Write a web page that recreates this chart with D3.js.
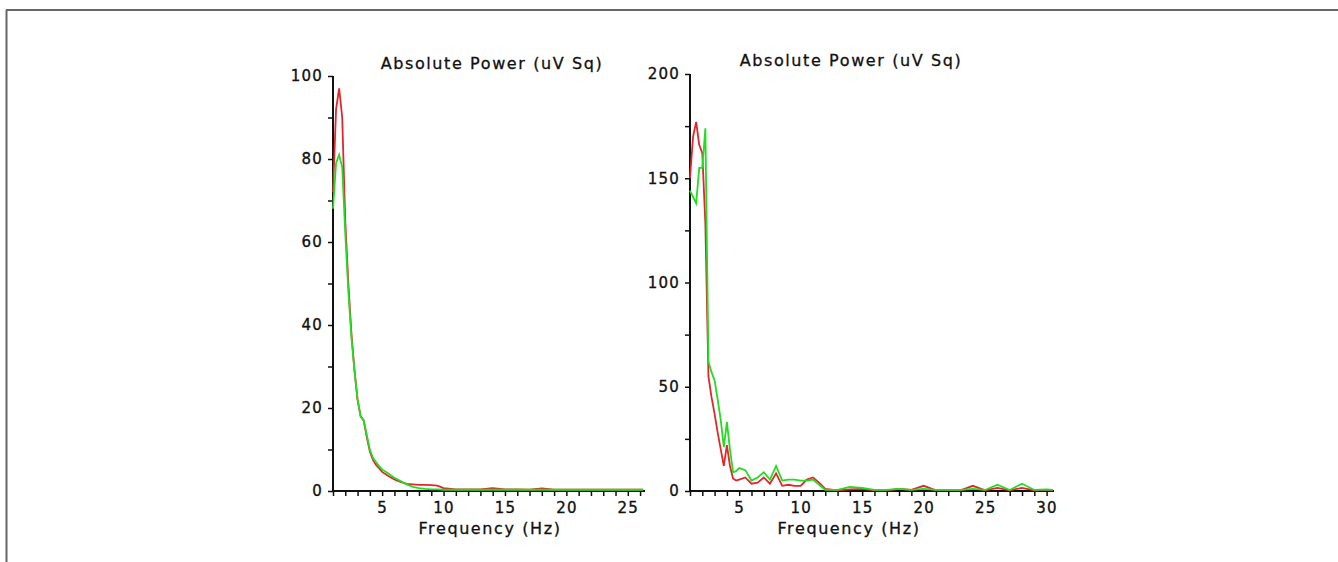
<!DOCTYPE html>
<html>
<head>
<meta charset="utf-8">
<script src="https://cdn.jsdelivr.net/npm/d3@7"></script>
<style>
  body { margin: 0; background: #fff; }
  svg { display: block; }
  .tick text { font-family: "DejaVu Sans", sans-serif; font-size: 15px; letter-spacing: 1.2px; fill: #111; stroke: #111; stroke-width: 0.35px; }
  .label { font-family: "DejaVu Sans", sans-serif; font-size: 16px; letter-spacing: 1.6px; fill: #111; stroke: #111; stroke-width: 0.3px; }
</style>
</head>
<body>
<div id="chart"></div>
<script>
var svgWidth = 1338;
var svgHeight = 562;

var titleText = "Absolute Power (uV Sq)";
var xTitleText = "Frequency (Hz)";

// left panel
var leftFreq = [1, 1.25, 1.5, 1.75, 2, 2.25, 2.5, 2.75, 3, 3.25, 3.5, 3.75, 4, 4.25, 4.5, 4.75, 5,
  5.5, 6, 6.5, 7, 7.5, 8, 8.5, 9, 9.5, 10,
  11, 12, 13, 14, 15, 16, 17, 18, 19, 20, 21, 22, 23, 24, 25, 26, 26.25];
var leftRed = [72, 92, 97, 90, 65, 50, 38, 29, 22, 18, 17, 13, 9.5, 7.5, 6.3, 5.5, 4.6,
  3.6, 2.8, 2.2, 1.7, 1.6, 1.5, 1.5, 1.4, 1.3, 0.7,
  0.4, 0.4, 0.4, 0.7, 0.4, 0.4, 0.3, 0.6, 0.3, 0.3, 0.3, 0.3, 0.3, 0.3, 0.3, 0.3, 0.3];
var leftGreen = [68, 79, 81, 78, 62, 48, 37, 29, 22, 18, 17, 13.5, 10, 8, 7, 6, 5.2,
  4.2, 3.2, 2.4, 1.6, 1.0, 0.7, 0.5, 0.4, 0.4, 0.3,
  0.3, 0.3, 0.3, 0.3, 0.3, 0.3, 0.3, 0.3, 0.3, 0.3, 0.3, 0.3, 0.3, 0.3, 0.3, 0.3, 0.3];
var leftYLabels = [0, 20, 40, 60, 80, 100];
var leftXLabels = [5, 10, 15, 20, 25];

// right panel
var rightFreq = [1, 1.25, 1.5, 1.75, 2, 2.25, 2.5, 2.75, 3, 3.25, 3.5, 3.75, 4, 4.25, 4.5, 4.75, 5,
  5.5, 6, 6.5, 7, 7.5, 8, 8.5, 9, 9.5, 10, 10.5, 11, 11.5, 12,
  13, 14, 15, 16, 17, 18, 19, 20, 21, 22, 23, 24, 25, 26, 27, 28, 29, 30, 30.5];
var rightRed = [150, 170, 177, 166, 162, 128, 55, 45, 37, 28, 20, 12, 22, 12, 6, 5, 5.5,
  6.5, 3.5, 4, 6.5, 3.5, 8.5, 2.5, 3, 2.5, 2.5, 5.5, 6.5, 4, 1,
  0.3, 0.8, 1, 0.3, 0.3, 1, 0.5, 2.5, 0.3, 0.5, 0.3, 2.5, 0.3, 1.5, 0.3, 1.5, 0.3, 0.5, 0.3];
var rightGreen = [144, 141, 138, 155, 155, 174, 62, 57, 53, 44, 34, 21, 33, 20, 9, 9.5, 11,
  10, 5, 6.5, 9, 5.5, 12, 5, 5.5, 5.5, 5, 5, 5.5, 3, 0.5,
  0.5, 2, 1.5, 0.5, 0.5, 1, 0.5, 1, 0.5, 0.5, 0.5, 1, 0.5, 3, 0.5, 3.5, 0.5, 0.8, 0.5];
var rightYLabels = [0, 50, 100, 150, 200];
var rightXLabels = [5, 10, 15, 20, 25, 30];

var svg = d3.select("#chart")
  .append("svg")
  .attr("width", svgWidth)
  .attr("height", svgHeight);

// page frame (top and left edges only)
svg.append("line").attr("x1", 6).attr("x2", svgWidth).attr("y1", 10).attr("y2", 10)
  .attr("stroke", "#333").attr("stroke-width", 1.5);
svg.append("line").attr("x1", 6.5).attr("x2", 6.5).attr("y1", 10).attr("y2", svgHeight)
  .attr("stroke", "#666").attr("stroke-width", 2);

function drawPanel(p) {
  var x = d3.scaleLinear().domain(p.xDomain).range(p.xRange);
  var y = d3.scaleLinear().domain(p.yDomain).range(p.yRange);

  var yTicks = d3.range(p.yDomain[0], p.yDomain[1] + 0.1, p.yMinor);
  var xTicks = d3.range(1, Math.floor(p.xDomain[1]) + 1, 1);

  var leftAxis = d3.axisLeft(y)
    .tickValues(yTicks)
    .tickSize(5)
    .tickPadding(5)
    .tickFormat(d => p.yLabels.indexOf(d) >= 0 ? d : "");
  var bottomAxis = d3.axisBottom(x)
    .tickValues(xTicks)
    .tickSize(5)
    .tickPadding(6)
    .tickFormat(d => p.xLabels.indexOf(d) >= 0 ? d : "");

  var gy = svg.append("g")
    .attr("transform", `translate(${p.xRange[0]}, 0)`)
    .call(leftAxis);
  var gx = svg.append("g")
    .attr("transform", `translate(0, ${p.yRange[0]})`)
    .call(bottomAxis);

  [gx, gy].forEach(function(g) {
    g.select(".domain").attr("stroke", "#111").attr("stroke-width", 2);
    g.selectAll(".tick line").attr("stroke", "#111").attr("stroke-width", 1.5);
  });
  gy.select(".domain").attr("d", `M0,${p.yRange[0]}V${p.yRange[1]}`);
  gx.select(".domain").attr("d", `M${p.xRange[0]},0H${p.xRange[1]}`);

  var line = d3.line()
    .x((d, i) => x(p.freq[i]))
    .y(d => y(d));

  svg.append("path")
    .datum(p.red)
    .attr("d", line)
    .attr("fill", "none")
    .attr("stroke", "#e3262c")
    .attr("stroke-width", 1.8);

  svg.append("path")
    .datum(p.green)
    .attr("d", line)
    .attr("fill", "none")
    .attr("stroke", "#22dd22")
    .attr("stroke-width", 1.8);

  svg.append("text")
    .attr("class", "label")
    .attr("x", p.titleX)
    .attr("y", p.titleY)
    .attr("text-anchor", "middle")
    .text(titleText);

  svg.append("text")
    .attr("class", "label")
    .attr("x", p.titleX - 2)
    .attr("y", 534)
    .attr("text-anchor", "middle")
    .text(xTitleText);
}

drawPanel({
  freq: leftFreq, red: leftRed, green: leftGreen,
  xDomain: [1, 26.4], xRange: [333, 645],
  yDomain: [0, 100], yRange: [491, 76], yMinor: 10,
  yLabels: leftYLabels, xLabels: leftXLabels,
  titleX: 492, titleY: 69
});

drawPanel({
  freq: rightFreq, red: rightRed, green: rightGreen,
  xDomain: [1, 30.6], xRange: [690, 1054],
  yDomain: [0, 200], yRange: [491, 74], yMinor: 25,
  yLabels: rightYLabels, xLabels: rightXLabels,
  titleX: 851, titleY: 66
});
</script>
</body>
</html>
